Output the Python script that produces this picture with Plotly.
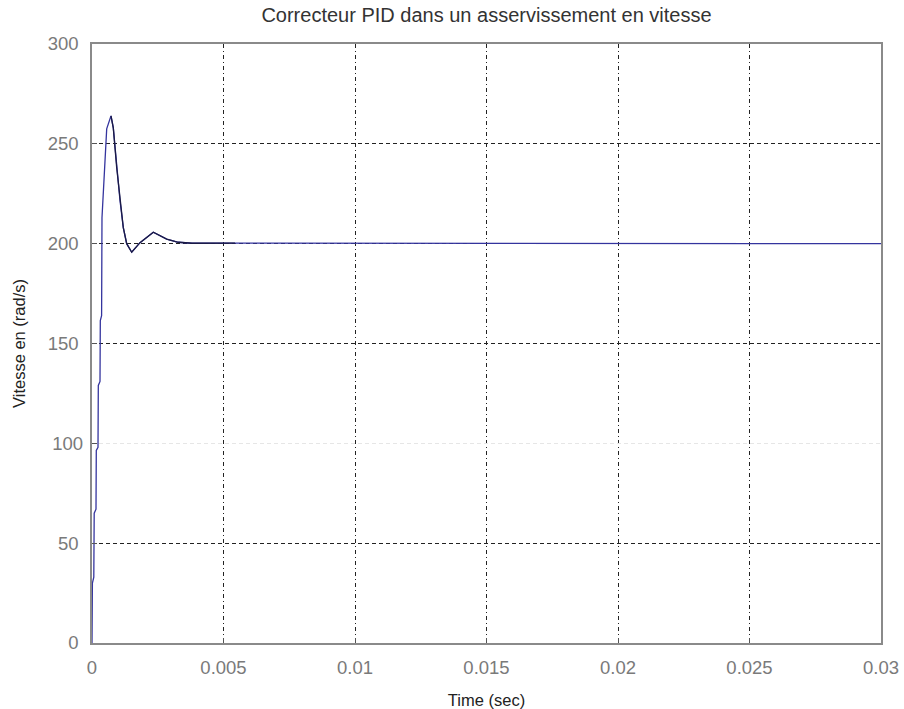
import plotly.graph_objects as go

# Step response of the speed loop with a PID controller
time_s = [0, 0.0000152, 0.0000684, 0.0000837, 0.000152, 0.000163, 0.000228, 0.000240,
          0.000304, 0.000316, 0.000365, 0.000380, 0.000559, 0.000722, 0.000810, 0.000939,
          0.001065, 0.001190, 0.001319, 0.001510, 0.001825, 0.002331, 0.002840, 0.003281,
          0.003802, 0.005437, 0.03]
speed = [0, 30, 33, 65, 67, 96.5, 98, 129, 131, 161.5, 164, 213, 257.5, 264, 258, 238,
         221.5, 208, 200, 195.7, 200.5, 205.7, 202.3, 200.7, 200.2, 200.3, 200]

# transient portion (drawn darker on top)
trans_start, trans_end = 13, 25

x_ticks = [0, 0.005, 0.01, 0.015, 0.02, 0.025, 0.03]
x_tick_text = ["0", "0.005", "0.01", "0.015", "0.02", "0.025", "0.03"]
y_ticks_main = [0, 50, 150, 200, 250, 300]
y_ticks_faint = [100]

fig = go.Figure()
fig.add_trace(go.Scatter(x=time_s, y=speed, mode="lines",
                         line=dict(color="#34349e", width=1.3), showlegend=False))
fig.add_trace(go.Scatter(x=time_s[trans_start:trans_end + 1],
                         y=speed[trans_start:trans_end + 1], mode="lines",
                         line=dict(color="#1a1a45", width=1.3), showlegend=False))
# invisible trace bound to the secondary y axis so its grid line renders
fig.add_trace(go.Scatter(x=[0], y=[0], yaxis="y2", mode="markers",
                         marker=dict(opacity=0), showlegend=False, hoverinfo="skip"))

font_family = "Liberation Sans, Arial, sans-serif"
tick_font = dict(family=font_family, size=18.5, color="#7a7a7a")
label_font = dict(family=font_family, size=16.5, color="#222222")

fig.update_layout(
    width=904, height=709,
    margin=dict(l=92, r=23, t=44, b=66),
    paper_bgcolor="white", plot_bgcolor="white",
    title=dict(text="Correcteur PID dans un asservissement en vitesse",
               x=(92 + 881) / 2 / 904, xanchor="center", y=1 - 15 / 709, yanchor="middle",
               font=dict(family=font_family, size=20, color="#333333")),
    xaxis=dict(range=[0, 0.03], tickvals=x_ticks, ticktext=x_tick_text, automargin=False,
               showgrid=True, gridcolor="#222222", gridwidth=1, griddash="4px,3px,1px,3px",
               showline=True, linecolor="#8a8a8a", linewidth=1.5, mirror=True,
               ticks="inside", ticklen=5, tickcolor="#555555",
               tickfont=tick_font, zeroline=False, ticklabelstandoff=7,
               title=dict(text="Time (sec)", standoff=20, font=label_font)),
    yaxis=dict(range=[0, 300], tickvals=y_ticks_main, automargin=False,
               showgrid=True, gridcolor="#222222", gridwidth=1, griddash="4px,3px",
               showline=True, linecolor="#8a8a8a", linewidth=1.5, mirror=True,
               ticks="inside", ticklen=5, tickcolor="#555555",
               tickfont=tick_font, zeroline=False, ticklabelstandoff=8,
               title=dict(text="Vitesse en (rad/s)", standoff=18, font=label_font)),
    yaxis2=dict(range=[0, 300], overlaying="y", side="left", tickvals=y_ticks_faint,
                automargin=False,
                showgrid=True, gridcolor="#e6e6e6", gridwidth=1, griddash="4px,3px",
                ticks="inside", ticklen=5, tickcolor="#555555",
                tickfont=tick_font, zeroline=False, ticklabelstandoff=8, showline=False),
)

fig.write_html("out.html")
